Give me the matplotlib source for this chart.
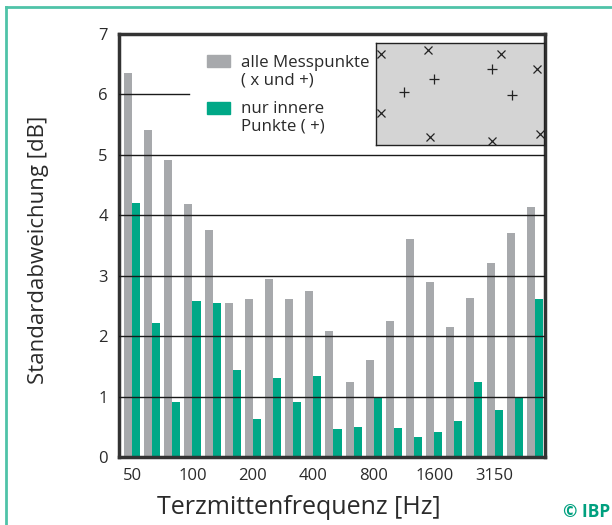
import matplotlib.pyplot as plt
from matplotlib.lines import Line2D
from matplotlib.patches import Rectangle
import numpy as np

plt.rcParams['font.family'] = ['Open Sans', 'DejaVu Sans']

# Terzmittenfrequenzen (Hz)
freqs = [50, 63, 80, 100, 125, 160, 200, 250, 315, 400, 500, 630,
         800, 1000, 1250, 1600, 2000, 2500, 3150, 4000, 5000]
tick_labels = ['50', '100', '200', '400', '800', '1600', '3150']

# Standardabweichung [dB]
alle = [6.36, 5.41, 4.92, 4.18, 3.75, 2.55, 2.62, 2.95, 2.62, 2.75, 2.09,
        1.24, 1.60, 2.25, 3.61, 2.90, 2.15, 2.63, 3.21, 3.70, 4.13]
innere = [4.21, 2.22, 0.91, 2.58, 2.55, 1.44, 0.63, 1.31, 0.91, 1.34, 0.46,
          0.49, 0.98, 0.48, 0.33, 0.41, 0.59, 1.24, 0.77, 0.98, 2.62]

# Messpunkte in der Skizze (relative Lage)
rand_x = [0.030, 0.310, 0.744, 0.958, 0.030, 0.321, 0.690, 0.976]
rand_y = [0.892, 0.931, 0.892, 0.745, 0.314, 0.078, 0.039, 0.108]
innen_x = [0.690, 0.345, 0.167, 0.810]
innen_y = [0.745, 0.647, 0.520, 0.490]

grau = '#a7a9ac'
gruen = '#00a887'
teal = '#4fc3a8'
txt = '#2a2a2a'

fig = plt.figure(figsize=(6.12, 5.25), dpi=100)
ax = fig.add_axes([0.1944, 0.1295, 0.696, 0.8057])

x = np.arange(len(freqs))
w = 0.4
ax.bar(x - w / 2, alle, width=w, color=grau, zorder=2)
ax.bar(x + w / 2, innere, width=w, color=gruen, zorder=2)

for yv in [1, 2, 3, 4, 5]:
    ax.axhline(yv, color='#1a1a1a', lw=1.0, zorder=3)
ax.axhline(6, xmin=0, xmax=0.164, color='#1a1a1a', lw=1.0, zorder=3)

ax.set_xlim(-0.65, 20.5)
ax.set_ylim(0, 7)
ax.set_yticks(range(8))
ax.set_xticks([freqs.index(int(t)) for t in tick_labels])
ax.set_xticklabels(tick_labels)
ax.tick_params(length=0, labelsize=12, pad=8, colors=txt)
for s in ax.spines.values():
    s.set_linewidth(2.5)
    s.set_color('#333333')

ax.set_xlabel('Terzmittenfrequenz [Hz]', fontsize=18, color=txt, va='top')
ax.xaxis.set_label_coords(0.423, -0.09)
ax.set_ylabel('Standardabweichung [dB]', fontsize=16, color=txt)
ax.yaxis.set_label_coords(-0.165, 0.49)

# Legende
ax.add_patch(Rectangle((0.207, 0.923), 0.054, 0.028, transform=ax.transAxes,
                       color=grau, clip_on=False, zorder=4))
ax.text(0.287, 0.950, 'alle Messpunkte\n( x und +)', transform=ax.transAxes,
        fontsize=12.2, va='top', ha='left', linespacing=1.1, color=txt)
ax.add_patch(Rectangle((0.207, 0.812), 0.054, 0.028, transform=ax.transAxes,
                       color=gruen, clip_on=False, zorder=4))
ax.text(0.287, 0.842, 'nur innere\nPunkte ( +)', transform=ax.transAxes,
        fontsize=12.2, va='top', ha='left', linespacing=1.1, color=txt)

# Skizze der Messpunkte
ins = fig.add_axes([0.6144, 0.7238, 0.2745, 0.1943])
ins.set_facecolor('#d4d4d4')
ins.plot(rand_x, rand_y, 'x', color='#222222', ms=5.5, mew=0.9)
ins.plot(innen_x, innen_y, '+', color='#222222', ms=7.5, mew=0.9)
ins.set_xlim(0, 1)
ins.set_ylim(0, 1)
ins.set_xticks([])
ins.set_yticks([])
for s in ins.spines.values():
    s.set_linewidth(1.0)
    s.set_color('#222222')

# Rahmen
fig.add_artist(Line2D([0.0098, 0.0098], [0, 0.987], color=teal, lw=2))
fig.add_artist(Line2D([0.0098, 1.0], [0.987, 0.987], color=teal, lw=2))
fig.text(0.997, 0.008, '© IBP', color='#00a07f', fontsize=12.5,
         fontweight='bold', ha='right', va='bottom')

fig.savefig('out.png', dpi=100)
